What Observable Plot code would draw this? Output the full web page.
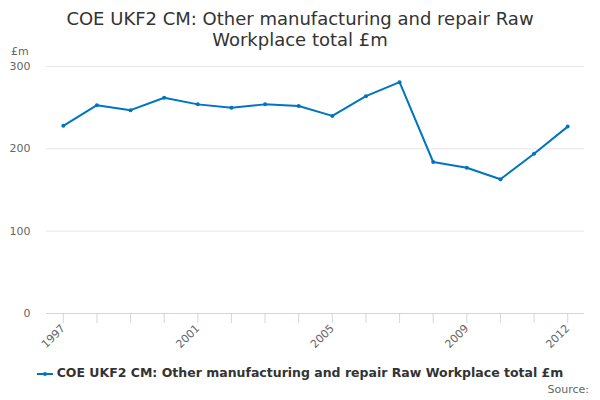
<!DOCTYPE html>
<html><head><meta charset="utf-8">
<script src="https://cdn.jsdelivr.net/npm/d3@7"></script>
<script src="https://cdn.jsdelivr.net/npm/@observablehq/plot@0.6"></script>
<style>
body{margin:0;background:#fff;font-family:"DejaVu Sans",sans-serif;}
#wrap{position:relative;width:600px;height:400px;overflow:hidden;}
#title{position:absolute;left:0;top:8px;width:600px;text-align:center;font-size:18px;line-height:21px;color:#333;}
#unit{position:absolute;left:11px;top:45px;font-size:11px;color:#666;}
#legend{position:absolute;left:0;top:365px;width:600px;text-align:center;font-size:12.5px;font-weight:bold;color:#333;}
#legend svg{vertical-align:middle;margin-right:4px;}
#source{position:absolute;right:11px;top:383px;font-size:11px;color:#666;}
#chart{position:absolute;left:0;top:0;}
</style></head>
<body>
<div id="wrap">
<div id="chart"></div>
<div id="title">COE UKF2 CM: Other manufacturing and repair Raw<br>Workplace total £m</div>
<div id="unit">£m</div>
<div id="legend"><svg width="16" height="10"><line x1="0" y1="5" x2="16" y2="5" stroke="#0075bf" stroke-width="2"/><circle cx="8" cy="5" r="2" fill="#0075bf"/></svg>COE UKF2 CM: Other manufacturing and repair Raw Workplace total £m</div>
<div id="source">Source:</div>
</div>
<script>
const years = [1997,1998,1999,2000,2001,2002,2003,2004,2005,2006,2007,2008,2009,2010,2011,2012];
const values = [228,253,247,262,254,250,254,252,240,264,281,184,177,163,194,227];
const labeledYears = [1997,2001,2005,2009,2012];
const yTicks = [0,100,200,300];
const data = years.map((y,i)=>({year:y,value:values[i]}));
const color = "#0075bf";
const chart = Plot.plot({
  width:600, height:400,
  marginLeft:46, marginRight:16, marginTop:66, marginBottom:87,
  style:{fontFamily:"DejaVu Sans, sans-serif", fontSize:"11px", color:"#666", background:"transparent"},
  x:{domain:[1996.5,2012.5]},
  y:{domain:[0,300]},
  marks:[
    Plot.gridY(yTicks,{stroke:"#e6e6e6",strokeOpacity:1}),
    Plot.axisY(yTicks,{tickSize:0,tickPadding:16,label:null,fill:"#666"}),
    Plot.ruleY([0],{stroke:"#ccd6eb"}),
    Plot.axisX(years,{tickSize:10,stroke:"#ccd6eb",tickFormat:d=>labeledYears.includes(d)?String(d):"",tickRotate:-45,tickPadding:3,label:null,fill:"#666"}),
    Plot.line(data,{x:"year",y:"value",stroke:color,strokeWidth:2}),
    Plot.dot(data,{x:"year",y:"value",fill:color,r:2})
  ]
});
document.getElementById("chart").appendChild(chart);
</script>
</body></html>
